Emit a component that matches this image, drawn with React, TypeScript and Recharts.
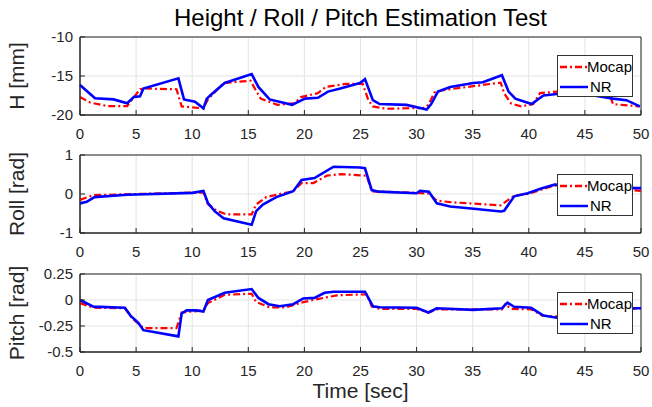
import React from 'react';
import { LineChart, Line, XAxis, YAxis, CartesianGrid, ReferenceArea, Legend } from 'recharts';

const FONT = '"Liberation Sans", Arial, sans-serif';
const INK = '#262626';
const MOCAP_COLOR = '#ff0000';
const NR_COLOR = '#0000ff';

const timeTicks = [0, 5, 10, 15, 20, 25, 30, 35, 40, 45, 50];
const heightTicks = [-20, -15, -10];
const rollTicks = [-1, 0, 1];
const pitchTicks = [-0.5, -0.25, 0, 0.25];

// [time (s), value]
const heightMocap = [
  [0, -17.7], [0.9, -18.4], [2.4, -18.85], [4.2, -18.85], [5.35, -16.7], [5.65, -16.6],
  [8.6, -16.7], [9.06, -18.9], [11, -19.15], [11.4, -18.0], [12.8, -15.9], [15.2, -15.6],
  [15.5, -16.4], [16.1, -17.9], [17.6, -18.7], [19.1, -18.5], [19.7, -17.7], [21.2, -17.2],
  [21.9, -16.4], [23.7, -16.0], [25.2, -16.0], [25.7, -18.1], [26.1, -18.9], [27.3, -19.2],
  [30.6, -19.1], [31.05, -18.7], [31.6, -17.1], [32.4, -16.8], [37.5, -15.85], [37.8, -17.2],
  [38.4, -18.5], [39.3, -18.9], [40.4, -18.6], [41, -17.2], [42.5, -17.0], [45, -17.1],
  [47.2, -17.3], [47.5, -18.6], [49.9, -18.9],
];
const heightNR = [
  [0, -16.15], [0.5, -16.8], [1.34, -17.86], [3, -18.0], [4.2, -18.5], [4.8, -17.7],
  [5.35, -17.6], [5.65, -16.6], [8.77, -15.3], [9.27, -18.0], [10.25, -18.3], [11.0, -19.15],
  [11.3, -17.9], [11.75, -17.3], [12.9, -15.9], [15.3, -14.75], [15.9, -16.4], [16.9, -18.0],
  [18.9, -18.7], [20.05, -17.9], [21.2, -17.8], [22.1, -17.0], [23.2, -16.6], [24.95, -15.9],
  [25.4, -15.4], [26.1, -18.1], [26.7, -18.6], [29.1, -18.7], [30.9, -19.3], [31.3, -18.6],
  [31.9, -17.0], [33, -16.4], [35.05, -15.9], [35.9, -15.8], [37.6, -14.9], [38.2, -17.0],
  [38.8, -17.9], [40.25, -18.6], [41.3, -17.5], [42.5, -17.3], [45, -17.3], [47.5, -17.9],
  [48.7, -18.1], [49.9, -18.9],
];

const rollMocap = [
  [0, -0.15], [1.2, -0.03], [5, 0.0], [11, 0.04], [11.4, -0.26], [12.2, -0.43], [13, -0.52],
  [15.3, -0.52], [15.7, -0.27], [16.6, -0.08], [17.8, 0.0], [19, 0.07], [19.75, 0.28],
  [20.8, 0.28], [22.0, 0.47], [23.2, 0.51], [25.55, 0.47], [26, 0.07], [30, 0.03], [31.1, 0.01],
  [31.8, -0.17], [33, -0.21], [37.5, -0.29], [38.7, -0.04], [39.9, 0.0], [42.3, 0.22],
  [46, 0.18], [50, 0.08],
];
const rollNR = [
  [0, -0.24], [0.6, -0.2], [1.3, -0.08], [4.2, -0.02], [10, 0.03], [11.0, 0.08], [11.4, -0.23],
  [12.0, -0.44], [12.8, -0.62], [15.3, -0.79], [15.7, -0.44], [16.3, -0.27], [17.5, -0.08],
  [19.0, 0.07], [19.75, 0.36], [20.9, 0.41], [22.6, 0.7], [24.95, 0.68], [25.4, 0.66],
  [26, 0.1], [26.6, 0.06], [30, 0.02], [30.3, 0.08], [31.1, 0.06], [31.8, -0.24], [33, -0.32],
  [35.1, -0.38], [37.5, -0.45], [37.8, -0.43], [38.7, -0.06], [39.9, 0.02], [41.1, 0.14],
  [42.3, 0.24], [46, 0.2], [49.5, 0.15], [50, 0.15],
];

const pitchMocap = [
  [0, -0.03], [1.2, -0.074], [4, -0.08], [4.6, -0.17], [5.65, -0.27], [8.6, -0.27],
  [9.06, -0.12], [11, -0.1], [11.4, -0.03], [12.9, 0.05], [15.3, 0.06], [15.7, -0.02],
  [16.9, -0.07], [18.4, -0.07], [19.9, -0.02], [21.7, 0.02], [22.9, 0.045], [25.55, 0.055],
  [26, -0.06], [26.7, -0.085], [30, -0.085], [31.05, -0.12], [31.8, -0.09], [37.6, -0.09],
  [37.9, -0.04], [38.4, -0.085], [40.2, -0.09], [41.2, -0.15], [42.3, -0.16], [45, -0.12],
  [48, -0.09], [50, -0.08],
];
const pitchNR = [
  [0, 0.0], [1.2, -0.064], [4.0, -0.074], [4.5, -0.15], [5.2, -0.22], [5.65, -0.29],
  [8.77, -0.35], [9.06, -0.13], [9.5, -0.1], [10.4, -0.1], [11, -0.11], [11.4, 0.0],
  [12.9, 0.07], [15.3, 0.105], [15.9, 0.02], [16.8, -0.04], [17.8, -0.06], [19.0, -0.04],
  [19.9, 0.015], [20.9, 0.02], [21.8, 0.07], [22.6, 0.08], [25.4, 0.08], [26.1, -0.06],
  [26.7, -0.07], [30, -0.075], [31.05, -0.12], [31.8, -0.08], [35.05, -0.095], [37.6, -0.08],
  [38.1, -0.025], [38.7, -0.065], [40.2, -0.075], [41.3, -0.15], [42.5, -0.17], [45, -0.13],
  [48, -0.09], [49.5, -0.08], [50, -0.08],
];

const toPoints = (pairs: number[][]) => pairs.map(([t, v]) => ({ t, v }));

const W = 652;
const H = 407;
const PLOT_LEFT = 80;
const PLOT_RIGHT = 641;
const X_AXIS_H = 30;

function LegendBox() {
  const row = (label: string, color: string, dash?: string) => (
    <div style={{ display: 'flex', alignItems: 'center', height: 20 }}>
      <svg width={30} height={10} style={{ marginLeft: 2 }}>
        <line x1={0} y1={5} x2={28} y2={5} stroke={color} strokeWidth={2.5} strokeDasharray={dash} />
      </svg>
      <span style={{ fontSize: 15, color: '#000', fontFamily: FONT, lineHeight: '20px' }}>{label}</span>
    </div>
  );
  return (
    <div
      style={{
        width: 76,
        height: 42,
        boxSizing: 'border-box',
        background: '#fff',
        border: '1px solid #333',
        paddingTop: 1,
      }}
    >
      {row('Mocap', MOCAP_COLOR, '7 3 2 3')}
      {row('NR', NR_COLOR)}
    </div>
  );
}

interface SubPlotProps {
  mocap: number[][];
  nr: number[][];
  yTicks: number[];
  yLabel: string;
  top: number;
  bottom: number;
  legendTop: number;
  xLabel?: string;
}

function SubPlot({ mocap, nr, yTicks, yLabel, top, bottom, legendTop, xLabel }: SubPlotProps) {
  const yMin = yTicks[0];
  const yMax = yTicks[yTicks.length - 1];
  return (
    <div style={{ position: 'absolute', left: 0, top: 0 }}>
      <LineChart
        width={W}
        height={H}
        margin={{ top, right: W - PLOT_RIGHT, bottom: H - bottom - X_AXIS_H, left: 0 }}
      >
        <CartesianGrid stroke="#e3e3e3" strokeWidth={1} />
        <XAxis
          dataKey="t"
          type="number"
          domain={[0, 50]}
          ticks={timeTicks}
          height={X_AXIS_H}
          allowDuplicatedCategory={false}
          axisLine={{ stroke: INK }}
          tickLine={{ stroke: INK }}
          tickSize={-5}
          tickMargin={18}
          tick={{ fontSize: 15, fill: INK, fontFamily: FONT }}
          interval={0}
          label={
            xLabel
              ? { value: xLabel, position: 'bottom', offset: 1, style: { fontSize: 21, fill: INK, fontFamily: FONT } }
              : undefined
          }
        />
        <YAxis
          type="number"
          domain={[yMin, yMax]}
          ticks={yTicks}
          width={PLOT_LEFT}
          axisLine={{ stroke: INK }}
          tickLine={{ stroke: INK }}
          tickSize={-5}
          tickMargin={12}
          interval={0}
          tick={{ fontSize: 15, fill: INK, fontFamily: FONT }}
          label={{
            value: yLabel,
            angle: -90,
            position: 'insideLeft',
            offset: 17,
            style: { textAnchor: 'middle', fontSize: 21, fill: INK, fontFamily: FONT },
          }}
        />
        <ReferenceArea x1={0} x2={50} y1={yMin} y2={yMax} fill="none" stroke={INK} strokeWidth={1} />
        <Line
          data={toPoints(mocap)}
          dataKey="v"
          name="Mocap"
          type="linear"
          stroke={MOCAP_COLOR}
          strokeWidth={2.2}
          strokeDasharray="7 3 2 3"
          dot={false}
          activeDot={false}
          isAnimationActive={false}
        />
        <Line
          data={toPoints(nr)}
          dataKey="v"
          name="NR"
          type="linear"
          stroke={NR_COLOR}
          strokeWidth={2.6}
          dot={false}
          activeDot={false}
          isAnimationActive={false}
        />
        <Legend
          layout="horizontal"
          verticalAlign="middle"
          align="center"
          wrapperStyle={{ left: 557, top: legendTop, width: 76, height: 42 }}
          content={() => <LegendBox />}
        />
      </LineChart>
    </div>
  );
}

export default function App() {
  return (
    <div style={{ position: 'absolute', left: 0, top: 0, width: W, height: H, background: '#fff', fontFamily: FONT }}>
      <div
        style={{
          position: 'absolute',
          left: PLOT_LEFT,
          width: PLOT_RIGHT - PLOT_LEFT,
          top: 6,
          textAlign: 'center',
          fontSize: 24,
          lineHeight: '24px',
          color: '#000',
        }}
      >
        Height / Roll / Pitch Estimation Test
      </div>
      <SubPlot mocap={heightMocap} nr={heightNR} yTicks={heightTicks} yLabel="H [mm]" top={37} bottom={115} legendTop={55} />
      <SubPlot mocap={rollMocap} nr={rollNR} yTicks={rollTicks} yLabel="Roll [rad]" top={155} bottom={233} legendTop={174} />
      <SubPlot
        mocap={pitchMocap}
        nr={pitchNR}
        yTicks={pitchTicks}
        yLabel="Pitch [rad]"
        top={274}
        bottom={352}
        legendTop={292}
        xLabel="Time [sec]"
      />
    </div>
  );
}
